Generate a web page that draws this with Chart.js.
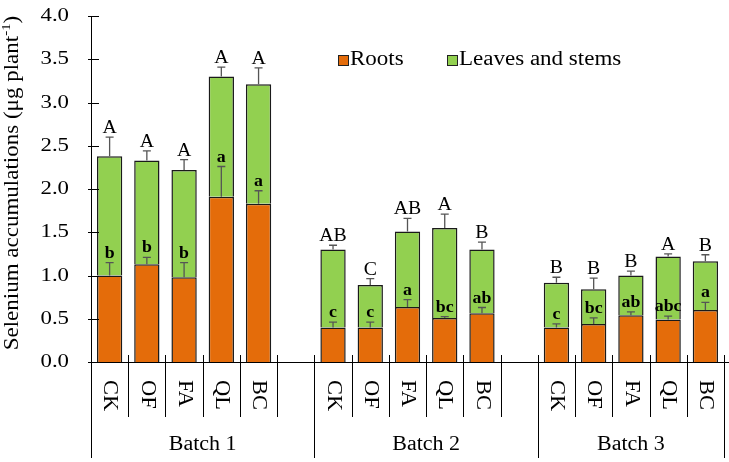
<!DOCTYPE html>
<html>
<head>
<meta charset="utf-8">
<script src="https://cdn.jsdelivr.net/npm/chart.js@4/dist/chart.umd.min.js"></script>
<style>
  html, body { margin: 0; padding: 0; background: #fff; }
  #wrap { width: 729px; height: 462px; }
</style>
</head>
<body>
<div id="wrap"><canvas id="seChart"></canvas></div>
<script>
// categories (empty slots separate the batches)
var categories = ['CK', 'OF', 'FA', 'QL', 'BC', '', 'CK', 'OF', 'FA', 'QL', 'BC', '', 'CK', 'OF', 'FA', 'QL', 'BC'];
var batches = ['Batch 1', 'Batch 2', 'Batch 3'];
var batchStarts = [0, 6, 12, 17];

// stacked values (ug per plant)
var roots  = [1.00, 1.13, 0.98, 1.91, 1.83, null, 0.40, 0.40, 0.635, 0.51, 0.565, null, 0.40, 0.44, 0.54, 0.49, 0.60];
var leaves = [1.38, 1.20, 1.24, 1.39, 1.38, null, 0.90, 0.49, 0.875, 1.04, 0.735, null, 0.515, 0.40, 0.46, 0.73, 0.565];

// error bars (upper half only)
var rootsErr  = [0.15, 0.08, 0.17, 0.35, 0.15, null, 0.06, 0.06, 0.085, 0.015, 0.065, null, 0.04, 0.07, 0.04, 0.04, 0.09];
var totalErr  = [0.22, 0.11, 0.12, 0.11, 0.19, null, 0.05, 0.075, 0.15, 0.16, 0.085, null, 0.065, 0.13, 0.05, 0.03, 0.075];

// significance letters
var upperLetters = ['A', 'A', 'A', 'A', 'A', '', 'AB', 'C', 'AB', 'A', 'B', '', 'B', 'B', 'B', 'A', 'B'];
var lowerLetters = ['b', 'b', 'b', 'a', 'a', '', 'c', 'c', 'a', 'bc', 'ab', '', 'c', 'bc', 'ab', 'abc', 'a'];

var yTicks = { min: 0, max: 4, step: 0.5 };

var ORANGE = '#E46C0A';
var GREEN = '#92D050';
var SERIF = "'Liberation Serif', 'Times New Roman', serif";

// draw text with a horizontal stretch (the reference font is wide)
function drawText(ctx, s, x, y, o) {
    ctx.save();
    ctx.translate(x, y);
    if (o.rot) ctx.rotate(o.rot);
    ctx.scale(o.sx || 1, 1);
    ctx.font = (o.bold ? 'bold ' : '') + o.size + 'px ' + SERIF;
    ctx.textAlign = o.align || 'center';
    ctx.textBaseline = o.base || 'middle';
    ctx.fillStyle = o.color || '#000';
    ctx.fillText(s, 0, 0);
    ctx.restore();
}

var decorPlugin = {
    id: 'decor',
    afterDatasetsDraw: function (chart) {
        var ctx = chart.ctx;
        var xs = chart.scales.x, ys = chart.scales.y;
        var cap = 4;
        ctx.save();
        ctx.strokeStyle = '#555';
        ctx.lineWidth = 1.3;
        for (var i = 0; i < categories.length; i++) {
            if (roots[i] === null) continue;
            var cx = xs.getPixelForValue(i);
            var rTop = ys.getPixelForValue(roots[i]);
            var rErr = ys.getPixelForValue(roots[i] + rootsErr[i]);
            var tTop = ys.getPixelForValue(roots[i] + leaves[i]);
            var tErr = ys.getPixelForValue(roots[i] + leaves[i] + totalErr[i]);
            [[rTop, rErr], [tTop, tErr]].forEach(function (p) {
                ctx.beginPath();
                ctx.moveTo(cx, p[0]);
                ctx.lineTo(cx, p[1]);
                ctx.moveTo(cx - cap, p[1]);
                ctx.lineTo(cx + cap, p[1]);
                ctx.stroke();
            });
            drawText(ctx, lowerLetters[i], cx, rErr - 5, { size: 17, bold: true, base: 'alphabetic', sx: 1.05 });
            drawText(ctx, upperLetters[i], cx, tErr - 4, { size: 18, base: 'alphabetic', sx: 1.1 });
        }
        ctx.restore();
    },
    afterDraw: function (chart) {
        var ctx = chart.ctx;
        var xs = chart.scales.x, ys = chart.scales.y;
        var area = chart.chartArea;
        var bottom = area.bottom;
        ctx.save();
        ctx.strokeStyle = '#000';
        ctx.lineWidth = 1;

        // x axis line
        ctx.beginPath();
        ctx.moveTo(area.left, bottom + 0.5);
        ctx.lineTo(chart.width, bottom + 0.5);
        ctx.stroke();

        // y tick marks and labels
        ys.ticks.forEach(function (t) {
            var py = Math.round(ys.getPixelForValue(t.value)) + 0.5;
            ctx.beginPath();
            ctx.moveTo(area.left - 3, py);
            ctx.lineTo(area.left + 8, py);
            ctx.stroke();
            drawText(ctx, t.value.toFixed(1), area.left - 22, py, { size: 19, align: 'right', sx: 1.2 });
        });

        // category separators and labels
        var n = categories.length;
        function edge(i) {
            if (i === 0) return area.left;
            if (i === n) return area.right;
            return (xs.getPixelForValue(i - 1) + xs.getPixelForValue(i)) / 2;
        }
        for (var i = 0; i <= n; i++) {
            var ex = Math.round(edge(i)) + 0.5;
            var isBatch = batchStarts.indexOf(i) >= 0;
            ctx.beginPath();
            ctx.moveTo(ex, i === 0 ? bottom : bottom - 7);
            ctx.lineTo(ex, isBatch ? bottom + 96 : bottom + 55);
            ctx.stroke();
        }
        categories.forEach(function (c, i) {
            if (!c) return;
            drawText(ctx, c, xs.getPixelForValue(i), bottom + 18, { size: 20, align: 'left', rot: Math.PI / 2, sx: 1.12 });
        });
        batches.forEach(function (b, k) {
            var mid = (edge(batchStarts[k]) + edge(batchStarts[k + 1])) / 2;
            drawText(ctx, b, mid, bottom + 83, { size: 20, sx: 1.1 });
        });

        // y axis title with superscript
        ctx.save();
        ctx.translate(13, (area.top + bottom) / 2 - 6);
        ctx.rotate(-Math.PI / 2);
        ctx.scale(1.15, 1);
        ctx.fillStyle = '#000';
        ctx.textBaseline = 'middle';
        ctx.textAlign = 'left';
        var mainTxt = 'Selenium accumulations (\u03bcg plant';
        ctx.font = '20px ' + SERIF;
        var w1 = ctx.measureText(mainTxt).width;
        var w3 = ctx.measureText(')').width;
        ctx.font = '13px ' + SERIF;
        var w2 = ctx.measureText('-1').width;
        var x0 = -(w1 + w2 + w3) / 2;
        ctx.font = '20px ' + SERIF;
        ctx.fillText(mainTxt, x0, 0);
        ctx.font = '13px ' + SERIF;
        ctx.fillText('-1', x0 + w1, -6);
        ctx.font = '20px ' + SERIF;
        ctx.fillText(')', x0 + w1 + w2, 0);
        ctx.restore();

        // legend
        var legendItems = [[ORANGE, 'Roots', 338], [GREEN, 'Leaves and stems', 447]];
        legendItems.forEach(function (it) {
            ctx.fillStyle = it[0];
            ctx.fillRect(it[2], 55, 10, 10);
            ctx.strokeStyle = '#222';
            ctx.strokeRect(it[2] + 0.5, 55.5, 10, 10);
            drawText(ctx, it[1], it[2] + 12, 60, { size: 20, align: 'left', sx: 1.15 });
        });
        ctx.restore();
    }
};

var chartCanvas = document.getElementById('seChart').getContext('2d');

var chartData = {
    labels: categories,
    datasets: [{
        label: 'Roots',
        data: roots,
        backgroundColor: ORANGE,
        borderColor: '#1a1a1a',
        borderWidth: 1.5,
        barPercentage: 0.68,
        categoryPercentage: 1
    }, {
        label: 'Leaves and stems',
        data: leaves,
        backgroundColor: GREEN,
        borderColor: '#1a1a1a',
        borderWidth: 1.5,
        barPercentage: 0.68,
        categoryPercentage: 1
    }]
};

var chart = new Chart(chartCanvas, {
    type: 'bar',
    data: chartData,
    options: {
        responsive: true,
        maintainAspectRatio: false,
        animation: false,
        layout: { padding: { top: 16, right: 5, left: 0, bottom: 0 } },
        plugins: {
            legend: { display: false },
            tooltip: { enabled: false }
        },
        scales: {
            x: {
                stacked: true,
                grid: { display: false },
                border: { display: false },
                ticks: { display: false },
                afterFit: function (s) { s.height = 100; }
            },
            y: {
                stacked: true,
                min: yTicks.min,
                max: yTicks.max,
                ticks: { stepSize: yTicks.step, display: false },
                grid: { display: false },
                border: { display: true, color: '#000', width: 1 },
                afterFit: function (s) { s.width = 91; }
            }
        }
    },
    plugins: [decorPlugin]
});
</script>
</body>
</html>
